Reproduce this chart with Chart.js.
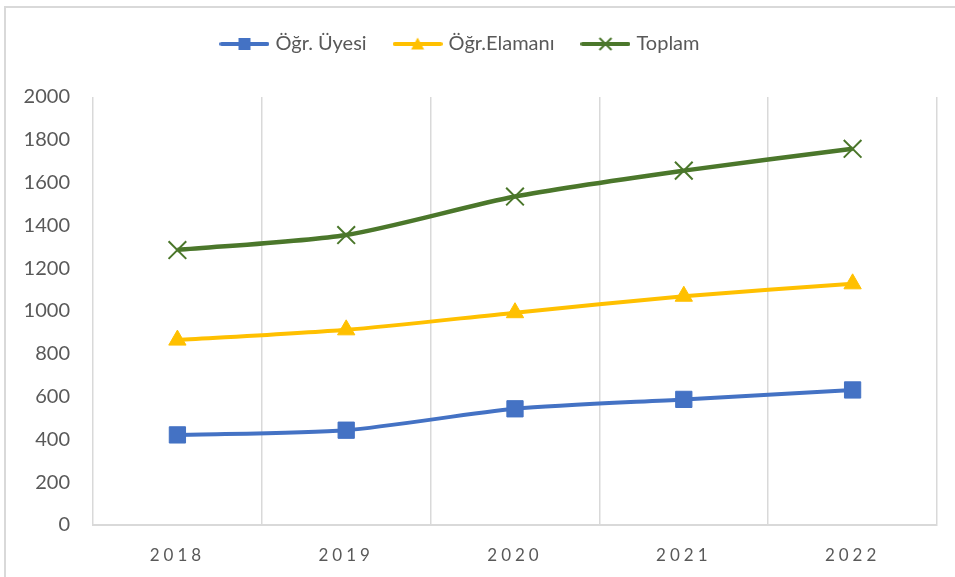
<!DOCTYPE html>
<html>
<head>
<meta charset="utf-8">
<script src="https://cdn.jsdelivr.net/npm/chart.js@4"></script>
<style>
  html, body { margin: 0; padding: 0; background: #fff; overflow: hidden; }
  #frame { position: absolute; left: 4px; top: 6px; width: 1000px; height: 700px;
           border-left: 2px solid #d9d9d9; border-top: 2px solid #d9d9d9; }
  #chart { position: absolute; left: 0; top: 0; }
</style>
</head>
<body>
<div id="frame"></div>
<canvas id="chart" width="955" height="577"></canvas>
<script>
const years = ['2018', '2019', '2020', '2021', '2022'];
const ogrUyesi = [421, 443, 543, 587, 631];
const ogrElamani = [864, 912, 992, 1069, 1127];
const toplam = [1285, 1355, 1535, 1656, 1758];
const yTicks = [0, 200, 400, 600, 800, 1000, 1200, 1400, 1600, 1800, 2000];

const BLUE = '#4472C4';
const GOLD = '#FFC000';
const GREEN = '#4B772B';
const GRID = '#d9d9d9';
const TEXT = '#595959';

Chart.defaults.font.family = 'Lato, "Open Sans", sans-serif';
Chart.defaults.color = TEXT;

// legend swatch: short line with the marker in the middle, like Excel
function legendIcon(color, shape) {
  const c = document.createElement('canvas');
  c.width = 50; c.height = 20;
  const g = c.getContext('2d');
  g.strokeStyle = color;
  g.fillStyle = color;
  g.lineWidth = 4;
  g.lineCap = 'round';
  g.beginPath(); g.moveTo(2, 10); g.lineTo(48, 10); g.stroke();
  if (shape === 'rect') {
    g.fillRect(19, 4, 12, 12);
  } else if (shape === 'tri') {
    g.beginPath(); g.moveTo(25, 3.5); g.lineTo(31.5, 15.5); g.lineTo(18.5, 15.5); g.closePath(); g.fill();
  } else {
    g.lineWidth = 2; g.lineCap = 'butt';
    g.beginPath(); g.moveTo(19, 4); g.lineTo(31, 16); g.moveTo(31, 4); g.lineTo(19, 16); g.stroke();
  }
  return c;
}
const icons = [legendIcon(BLUE, 'rect'), legendIcon(GOLD, 'tri'), legendIcon(GREEN, 'x')];

const legendGap = {
  id: 'legendGap',
  beforeInit(chart) {
    const fit = chart.legend.fit;
    chart.legend.fit = function () { fit.call(this); this.height += 33; };
  }
};

const xSpacing = {
  id: 'xSpacing',
  beforeDraw(chart) {
    const s = chart.scales.x;
    if (s._spaced) return;
    const draw = s.drawLabels;
    s.drawLabels = function (area) {
      this.ctx.save();
      this.ctx.letterSpacing = '4px';
      draw.call(this, area);
      this.ctx.restore();
    };
    s._spaced = true;
  }
};

new Chart(document.getElementById('chart'), {
  type: 'line',
  data: {
    labels: years,
    datasets: [
      { label: 'Öğr. Üyesi', data: ogrUyesi, borderColor: BLUE, backgroundColor: BLUE,
        borderWidth: 4, pointStyle: 'rect', pointRadius: 11.5, pointBorderWidth: 1 },
      { label: 'Öğr.Elamanı', data: ogrElamani, borderColor: GOLD, backgroundColor: GOLD,
        borderWidth: 4, pointStyle: 'triangle', pointRadius: 10, pointBorderWidth: 1 },
      { label: 'Toplam', data: toplam, borderColor: GREEN, backgroundColor: GREEN,
        borderWidth: 4.5, pointStyle: 'crossRot', pointRadius: 12.5, pointBorderWidth: 2 }
    ]
  },
  options: {
    responsive: false,
    animation: false,
    events: [],
    layout: { padding: { left: -14, right: 18, top: 4, bottom: 12 } },
    elements: { line: { tension: 0.25 } },
    plugins: {
      tooltip: { enabled: false },
      legend: {
        position: 'top',
        labels: {
          usePointStyle: true,
          pointStyleWidth: 42,
          padding: 30,
          color: TEXT,
          font: { size: 20 },
          generateLabels(chart) {
            const items = Chart.defaults.plugins.legend.labels.generateLabels(chart);
            items.forEach((it, i) => { it.pointStyle = icons[i]; });
            return items;
          }
        }
      }
    },
    scales: {
      x: {
        offset: true,
        grid: { offset: true, color: GRID, lineWidth: 1.5, drawTicks: false },
        border: { color: GRID, width: 2 },
        ticks: { padding: 20, color: TEXT, font: { size: 17 } },
        afterFit(s) { s.height = 40; }
      },
      y: {
        min: 0,
        max: 2000,
        grid: { display: false, drawTicks: false },
        border: { display: false },
        afterBuildTicks(s) { s.ticks = yTicks.map(v => ({ value: v })); },
        ticks: { padding: 23, color: TEXT, font: { size: 20 }, callback: v => String(v) },
        afterFit(s) { s.width = 107; }
      }
    }
  },
  plugins: [legendGap, xSpacing]
});
</script>
</body>
</html>
